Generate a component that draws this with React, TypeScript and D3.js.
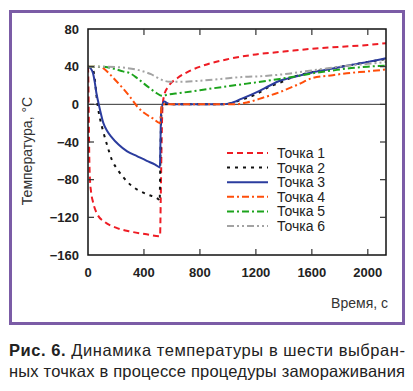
import React from "react";
import * as d3 from "d3";

// time (s), temperature (°C)
const point1: [number, number][] = [
  [0, 40], [3, 20], [6, -20], [9, -55], [14, -80], [22, -93], [36, -104], [64, -116],
  [120, -125], [200, -131], [300, -135], [420, -138], [515, -140], [520, -100], [525, -50],
  [532, -5], [545, 10], [575, 19], [640, 28], [720, 35], [820, 41], [1000, 48], [1200, 53],
  [1400, 56], [1600, 59], [1800, 61], [2000, 63], [2130, 65],
];
const point2: [number, number][] = [
  [0, 40], [30, 39], [50, 25], [60, 10], [71, -3], [90, -18], [107, -28], [140, -45],
  [171, -59], [210, -69], [250, -77], [300, -85], [357, -91], [430, -96], [505, -101],
  [512, -103], [517, -60], [522, -20], [530, 0], [560, 0], [950, 0], [1014, 1], [1100, 5],
  [1207, 11], [1300, 19], [1371, 23], [1464, 29], [1564, 33], [1700, 37], [1850, 41],
  [2000, 45], [2130, 48],
];
const point3: [number, number][] = [
  [0, 40], [20, 38], [36, 33], [50, 22], [60, 12], [71, 4], [86, -6], [110, -20],
  [136, -28], [170, -35], [220, -43], [280, -50], [350, -55], [420, -60], [480, -64],
  [514, -67], [518, -40], [522, -10], [530, -2], [545, 3], [570, 1], [600, 0], [950, 0],
  [1014, 1], [1100, 6], [1207, 13], [1300, 20], [1371, 25], [1500, 30], [1607, 34],
  [1750, 38], [1850, 41], [2000, 45], [2130, 49],
];
const point4: [number, number][] = [
  [0, 40], [60, 40], [100, 39], [121, 37], [150, 33], [200, 25], [250, 17], [300, 8],
  [350, -2], [400, -9], [464, -15], [515, -20], [520, -12], [525, -4], [532, 0],
  [1050, 0], [1136, 2], [1250, 7], [1371, 13], [1500, 21], [1607, 28], [1750, 31],
  [1850, 33], [2000, 35], [2130, 37],
];
const point5: [number, number][] = [
  [0, 40], [100, 40], [179, 38], [250, 35], [300, 33], [350, 28], [400, 22], [443, 17],
  [490, 12], [530, 9], [560, 10], [657, 12], [800, 15], [893, 17], [1036, 20], [1136, 22],
  [1371, 27], [1500, 30], [1607, 33], [1750, 36], [1850, 38], [2000, 40], [2130, 41],
];
const point6: [number, number][] = [
  [0, 40], [100, 40], [250, 39], [371, 36], [450, 32], [500, 28], [545, 25], [586, 24],
  [657, 24], [800, 25], [950, 27], [1100, 29], [1250, 30], [1400, 32], [1550, 35],
  [1700, 38], [1850, 41], [2000, 43], [2130, 45],
];

const seriesNames = ["Точка 1", "Точка 2", "Точка 3", "Точка 4", "Точка 5", "Точка 6"];
const seriesData = [point1, point2, point3, point4, point5, point6];
const seriesColors = ["#ee1c24", "#111111", "#2b3c9e", "#ff4e0a", "#1ca31c", "#a3a3a3"];
const seriesDash = ["6,4", "3,5", "none", "7,3,2,3", "7,3,2,3", "7,3,2,3,2,3"];

const xTicks = [0, 400, 800, 1200, 1600, 2000];
const yTicks = [80, 40, 0, -40, -80, -120, -160];

const yLabel = "Температура, °C";
const xLabel = "Время, с";
const captionBold = "Рис. 6.";
const captionLine1 = " Динамика температуры в шести выбран-";
const captionLine2 = "ных точках в процессе процедуры замораживания";

const App = () => {
  const width = 413;
  const height = 391;
  const plot = { left: 88, right: 386, top: 29, bottom: 255 };

  const x = d3.scaleLinear().domain([0, 2130]).range([plot.left, plot.right]);
  const y = d3.scaleLinear().domain([-160, 80]).range([plot.bottom, plot.top]);

  const line = d3
    .line<[number, number]>()
    .x((d) => x(d[0]))
    .y((d) => y(d[1]))
    .curve(d3.curveMonotoneX);

  const tickFont = { fontFamily: "Liberation Sans, Arial, sans-serif", fontSize: 13, fontWeight: 700 };
  const labelFont = { fontFamily: "Liberation Sans, Arial, sans-serif", fontSize: 14 };
  const captionFont = { fontFamily: "Liberation Sans, Arial, sans-serif", fontSize: 16.5 };

  return (
    <svg
      width={width}
      height={height}
      style={{ position: "fixed", left: 0, top: 0, background: "#fff" }}
    >
      {/* purple frame */}
      <rect x={10.5} y={11.5} width={393} height={312} fill="none" stroke="#7b5ca6" strokeWidth={3} />

      <defs>
        <clipPath id="plotClip">
          <rect x={plot.left} y={plot.top} width={plot.right - plot.left} height={plot.bottom - plot.top} />
        </clipPath>
      </defs>

      {/* zero line */}
      <line x1={plot.left} x2={plot.right} y1={y(0)} y2={y(0)} stroke="#333" strokeWidth={1} />

      {/* series */}
      <g clipPath="url(#plotClip)">
        {seriesData.map((s, i) => (
          <path
            key={i}
            d={line(s) || ""}
            fill="none"
            stroke={seriesColors[i]}
            strokeWidth={2}
            strokeDasharray={seriesDash[i]}
          />
        ))}
      </g>

      {/* plot frame */}
      <rect
        x={plot.left}
        y={plot.top}
        width={plot.right - plot.left}
        height={plot.bottom - plot.top}
        fill="none"
        stroke="#111"
        strokeWidth={1.5}
      />

      {/* inward ticks */}
      {xTicks.filter((t) => t > 0).map((t) => (
        <g key={"xt" + t} stroke="#333" strokeWidth={1.2}>
          <line x1={x(t)} x2={x(t)} y1={plot.top} y2={plot.top + 6} />
          <line x1={x(t)} x2={x(t)} y1={plot.bottom} y2={plot.bottom - 6} />
        </g>
      ))}
      {yTicks.filter((t) => t > -160 && t < 80).map((t) => (
        <g key={"yt" + t} stroke="#333" strokeWidth={1.2}>
          <line x1={plot.left} x2={plot.left + 6} y1={y(t)} y2={y(t)} />
          <line x1={plot.right} x2={plot.right - 6} y1={y(t)} y2={y(t)} />
        </g>
      ))}

      {/* tick labels */}
      {xTicks.map((t) => (
        <text key={"xl" + t} x={x(t)} y={277} textAnchor="middle" fill="#222" style={tickFont}>
          {t}
        </text>
      ))}
      {yTicks.map((t) => (
        <text key={"yl" + t} x={79} y={y(t) + 4.5} textAnchor="end" fill="#222" style={tickFont}>
          {t < 0 ? "\u2212" + Math.abs(t) : t}
        </text>
      ))}

      {/* axis labels */}
      <text
        transform={`translate(32,151) rotate(-90)`}
        textAnchor="middle"
        fill="#333"
        style={labelFont}
      >
        {yLabel}
      </text>
      <text x={388} y={308} textAnchor="end" fill="#333" style={labelFont}>
        {xLabel}
      </text>

      {/* legend */}
      {seriesNames.map((name, i) => {
        const ly = 153 + i * 14.6;
        return (
          <g key={name}>
            <line
              x1={227}
              x2={268}
              y1={ly}
              y2={ly}
              stroke={seriesColors[i]}
              strokeWidth={2}
              strokeDasharray={seriesDash[i]}
            />
            <text x={277} y={ly + 5} fill="#222" style={labelFont}>
              {name}
            </text>
          </g>
        );
      })}

      {/* caption */}
      <text x={9} y={356} textLength={396} lengthAdjust="spacing" fill="#222" style={captionFont}>
        <tspan fontWeight={700}>{captionBold}</tspan>
        {captionLine1}
      </text>
      <text x={9} y={377} textLength={396} lengthAdjust="spacing" fill="#222" style={captionFont}>
        {captionLine2}
      </text>
    </svg>
  );
};

export default App;
